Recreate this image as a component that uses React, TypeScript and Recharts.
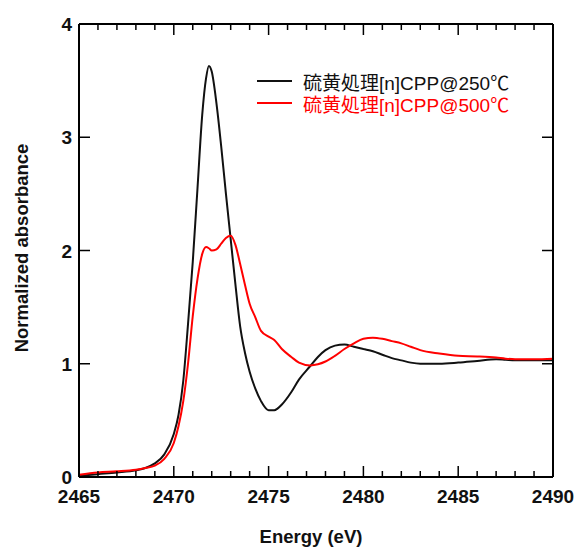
import {LineChart, Line, XAxis, YAxis} from 'recharts';

const energy = [
    2465, 2466, 2467, 2468, 2468.5, 2469, 2469.5, 2470, 2470.25, 2470.5, 2470.75, 2471, 2471.25, 2471.5,
    2471.7, 2471.85, 2472, 2472.25, 2472.5, 2472.75, 2473, 2473.25, 2473.5, 2473.75, 2474, 2474.3, 2474.6,
    2475, 2475.3, 2475.7, 2476.2, 2476.6, 2477.2, 2477.6, 2478, 2478.5, 2479, 2479.5, 2480, 2480.5, 2481,
    2481.5, 2482, 2482.5, 2483, 2484, 2485, 2486, 2487, 2487.5, 2488, 2489, 2490,
];
const cpp250 = [
    0.01, 0.025, 0.04, 0.06, 0.08, 0.12, 0.2, 0.38, 0.55, 0.85, 1.35, 1.9, 2.55, 3.2,
    3.52, 3.63, 3.58, 3.3, 2.92, 2.5, 2.1, 1.7, 1.33, 1.1, 0.93, 0.78, 0.67,
    0.59, 0.59, 0.64, 0.75, 0.86, 0.98, 1.06, 1.12, 1.16, 1.17, 1.15, 1.13, 1.11, 1.08,
    1.05, 1.03, 1.01, 1.0, 1.0, 1.01, 1.025, 1.04, 1.035, 1.03, 1.03, 1.03,
];
const cpp500 = [
    0.02, 0.04, 0.05, 0.065, 0.08, 0.1, 0.16, 0.3, 0.45, 0.67, 1.0, 1.42, 1.75, 1.97,
    2.03, 2.02, 2.0, 2.01, 2.06, 2.11, 2.13, 2.05, 1.88, 1.7, 1.53, 1.41, 1.29,
    1.24, 1.21, 1.13, 1.06, 1.01, 0.985, 0.995, 1.02, 1.07, 1.13, 1.18, 1.22, 1.23, 1.22,
    1.2, 1.18, 1.15, 1.12, 1.09, 1.07, 1.065, 1.055, 1.045, 1.04, 1.04, 1.045,
];
const xTicks = [
    2465, 2466, 2467, 2468, 2469, 2470, 2471, 2472, 2473, 2474, 2475, 2476, 2477,
    2478, 2479, 2480, 2481, 2482, 2483, 2484, 2485, 2486, 2487, 2488, 2489, 2490,
];
const yTicks = [0, 1, 2, 3, 4];
const seriesNames = ['硫黄処理[n]CPP@250℃', '硫黄処理[n]CPP@500℃'];
const colors = ['#111', '#ff0000'];

const data = energy.map((e, i) => ({e, a250: cpp250[i], a500: cpp500[i]}));

const FONT = '"Liberation Sans", Arial, sans-serif';

function BottomTick({x, y, payload}: any) {
    const major = payload.value % 5 === 0;
    return (
        <g>
            <line x1={x} x2={x} y1={y} y2={y - (major ? 11 : 6)} stroke="#000" strokeWidth={1.5}/>
            {major && (
                <text x={x} y={y + 26} textAnchor="middle" fontFamily={FONT} fontWeight="bold" fontSize={19} fill="#111">
                    {payload.value}
                </text>
            )}
        </g>
    );
}

function TopTick({x, y, payload}: any) {
    const major = payload.value % 5 === 0;
    return <line x1={x} x2={x} y1={y} y2={y + (major ? 11 : 6)} stroke="#000" strokeWidth={1.5}/>;
}

function LeftTick({x, y, payload}: any) {
    return (
        <g>
            <line x1={x} x2={x + 11} y1={y} y2={y} stroke="#000" strokeWidth={1.5}/>
            <text x={x - 7} y={y + 7} textAnchor="end" fontFamily={FONT} fontWeight="bold" fontSize={19} fill="#111">
                {payload.value}
            </text>
        </g>
    );
}

function RightTick({x, y}: any) {
    return <line x1={x} x2={x - 11} y1={y} y2={y} stroke="#000" strokeWidth={1.5}/>;
}

function LegendBox() {
    return (
        <div style={{position: 'absolute', left: 257, top: 70}}>
            {seriesNames.map((name, i) => (
                <div key={name} style={{display: 'flex', alignItems: 'center', height: 22}}>
                    <span style={{display: 'inline-block', width: 35, height: 2, background: colors[i], marginRight: 11}}/>
                    <span style={{
                        color: colors[i],
                        fontFamily: '"Liberation Sans", Arial, "Noto Sans CJK JP", sans-serif',
                        fontSize: 19,
                        whiteSpace: 'nowrap',
                    }}>{name}</span>
                </div>
            ))}
        </div>
    );
}

export default function App() {
    const axisLine = {stroke: '#000', strokeWidth: 2};
    return (
        <div style={{position: 'absolute', left: 0, top: 0, width: 576, height: 548, background: '#fff'}}>
            <LineChart width={576} height={548} data={data} margin={{top: 23, right: 22, bottom: 11, left: 19}}>
                <XAxis dataKey="e" type="number" domain={[2465, 2490]} ticks={xTicks} interval={0}
                       height={60} tickSize={0} tickMargin={0} axisLine={axisLine} tick={<BottomTick/>}
                       label={{
                           content: () => (
                               <text x={311} y={543} textAnchor="middle" fontFamily={FONT} fontWeight="bold"
                                     fontSize={18.5} fill="#111">Energy (eV)</text>
                           ),
                       }}/>
                <XAxis xAxisId="top" orientation="top" dataKey="e" type="number" domain={[2465, 2490]}
                       ticks={xTicks} interval={0} height={1} tickSize={0} tickMargin={0} axisLine={axisLine}
                       tick={<TopTick/>}/>
                <YAxis type="number" domain={[0, 4]} ticks={yTicks} interval={0} width={60} tickSize={0}
                       tickMargin={0} axisLine={axisLine} tick={<LeftTick/>}
                       label={{
                           content: () => (
                               <text x={28} y={248} transform="rotate(-90 28 248)" textAnchor="middle"
                                     fontFamily={FONT} fontWeight="bold" fontSize={18.5}
                                     fill="#111">Normalized absorbance</text>
                           ),
                       }}/>
                <YAxis yAxisId="right" orientation="right" type="number" domain={[0, 4]} ticks={yTicks}
                       interval={0} width={1} tickSize={0} tickMargin={0} axisLine={axisLine}
                       tick={<RightTick/>}/>
                <Line dataKey="a250" xAxisId="top" yAxisId="right" type="monotone" stroke="none" dot={false}
                      isAnimationActive={false} legendType="none"/>
                <Line dataKey="a250" type="monotone" stroke={colors[0]} strokeWidth={2} dot={false}
                      isAnimationActive={false}/>
                <Line dataKey="a500" type="monotone" stroke={colors[1]} strokeWidth={2} dot={false}
                      isAnimationActive={false}/>
            </LineChart>
            <LegendBox/>
        </div>
    );
}
